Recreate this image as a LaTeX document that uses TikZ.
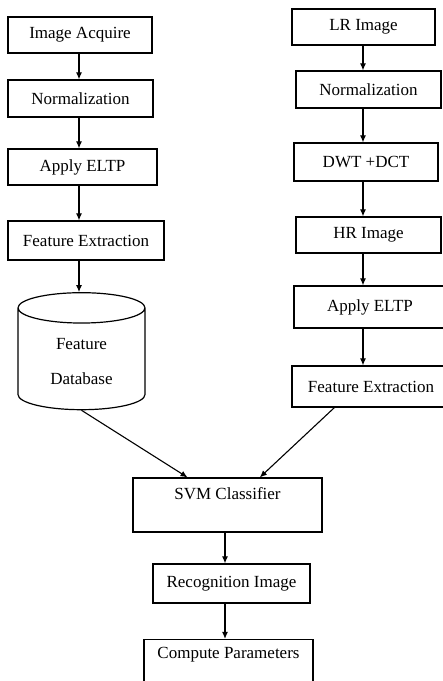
\documentclass[tikz,border=0pt]{standalone}
\usepackage{fontspec}
\setmainfont{Liberation Serif}
\usetikzlibrary{calc, shapes.geometric, arrows.meta}
\tikzstyle{box}=[draw, line width=1.2pt, rectangle, inner sep=2pt, align=center]
\tikzstyle{arr}=[line width=1.1pt, -{Latex[length=7pt,width=6pt]}]

\begin{document}
\begin{tikzpicture}[x=1pt, y=-1pt, font=\fontsize{17}{20}\selectfont]
		\useasboundingbox (0,0) rectangle (443,681);
		% training side
		\node(acq) [box, minimum width=144, minimum height=36] at (80,35) {Image Acquire};
		\node(norm1) [box, minimum width=145, minimum height=37] at (80.5,98.5) {Normalization};
		\node(eltp1) [box, minimum width=149, minimum height=36] at (82.5,167) {Apply ELTP};
		\node(feat1) [box, minimum width=156, minimum height=39] at (86,240.5) {Feature Extraction};
		\node(db) [draw, line width=1.2pt, cylinder, shape border rotate=90, aspect=0.44,
			minimum width=127, minimum height=117, align=center] at (81.5,361.5) {Feature\\[15pt]Database};
		
		% test side
		\node(lr) [box, minimum width=143, minimum height=36] at (363.5,27) {LR Image};
		\node(norm2) [box, minimum width=145, minimum height=37] at (368.5,89.5) {Normalization};
		\node(dwt) [box, minimum width=144, minimum height=38] at (366,162) {DWT +DCT};
		\node(hr) [box, minimum width=145, minimum height=36] at (368.5,235) {HR Image};
		\node(eltp2) [box, minimum width=152, minimum height=42] at (370,307) {Apply ELTP};
		\node(feat2) [box, minimum width=158, minimum height=41] at (371,386.5) {Feature Extraction};
		
		% classification
		\node(svm) [box, minimum width=189, text height=15, text depth=27, inner ysep=6] at (227.5,505) {SVM Classifier};
		\node(rec) [box, minimum width=157, minimum height=39] at (231.5,583.5) {Recognition Image};
		\node(comp) [box, minimum width=169, text height=15, text depth=30, inner ysep=4] at (228.5,666) {Compute Parameters};
		
		\draw[arr] (acq.south -| 79,0) -- (norm1.north -| 79,0);
		\draw[arr] (norm1.south -| 79,0) -- (eltp1.north -| 79,0);
		\draw[arr] (eltp1.south -| 79,0) -- (feat1.north -| 79,0);
		\draw[arr] (feat1.south -| 79,0) -- (db.north -| 79,0);
		
		\draw[arr] (lr.south -| 363,0) -- (norm2.north -| 363,0);
		\draw[arr] (norm2.south -| 363,0) -- (dwt.north -| 363,0);
		\draw[arr] (dwt.south -| 363,0) -- (hr.north -| 363,0);
		\draw[arr] (hr.south -| 363,0) -- (eltp2.north -| 363,0);
		\draw[arr] (eltp2.south -| 363,0) -- (feat2.north -| 363,0);
		
		\draw[arr] (db.south) -- ($(svm.north west)!0.29!(svm.north east)$);
		\draw[arr] ($(feat2.south west)!0.27!(feat2.south east)$) -- ($(svm.north west)!0.67!(svm.north east)$);
		\draw[arr] (svm.south -| 225,0) -- (rec.north -| 225,0);
		\draw[arr] (rec.south -| 225,0) -- (comp.north -| 225,0);
\end{tikzpicture}
\end{document}
